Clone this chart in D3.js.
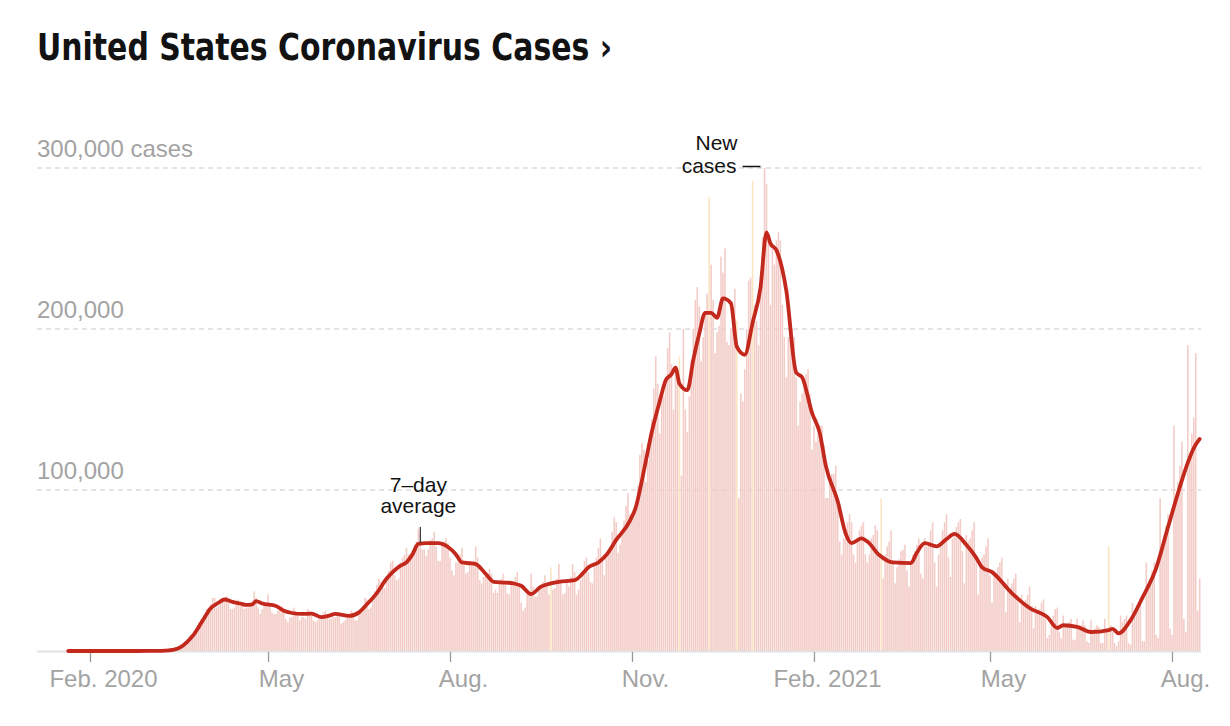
<!DOCTYPE html>
<html>
<head>
<meta charset="utf-8">
<script src="https://cdn.jsdelivr.net/npm/d3@7/dist/d3.min.js"></script>
<style>
  html, body { margin: 0; padding: 0; background: #fff; }
  svg { display: block; }
</style>
</head>
<body>
<svg id="chart" width="1230" height="726"></svg>
<script>
// ---------------- DATA ----------------
const titleText = "United States Coronavirus Cases ›";

// Daily new cases, in thousands; each row: first date of the row, then one value per day
const dailyNewCasesK = [
  ["2020-01-21", 0,0,0,0,0],
  ["2020-01-26", 0,0,0,0,0,0,0],
  ["2020-02-02", 0,0,0,0,0,0,0],
  ["2020-02-09", 0,0,0,0,0,0,0],
  ["2020-02-16", 0,0,0,0,0,0,0],
  ["2020-02-23", 0,0,0,0,0.01,0.01,0.01],
  ["2020-03-01", 0.01,0.02,0.03,0.04,0.05,0.07,0.1],
  ["2020-03-08", 0.12,0.17,0.25,0.3,0.42,0.55,0.7],
  ["2020-03-15", 0.8,1.2,1.8,2.6,4.4,5.6,6.9],
  ["2020-03-22", 9,10,10.5,11.5,14.5,18,19.5],
  ["2020-03-29", 19,21,26,25,29,33,33],
  ["2020-04-05", 27,28,31,32,33,34,30],
  ["2020-04-12", 26,26,27,29,32,30,29],
  ["2020-04-19", 26,27,27,29,28,37,33],
  ["2020-04-26", 27,23,26,28,30,35,29],
  ["2020-05-03", 24,23,23,25,27,28,25],
  ["2020-05-10", 20,18,21,21,27,25,24],
  ["2020-05-17", 19,21,21,20,26,25,22],
  ["2020-05-24", 19,18,19,20,22,24,25],
  ["2020-05-31", 21,20,20,21,21,23,23],
  ["2020-06-07", 17,18,19,21,22,25,24],
  ["2020-06-14", 19,19,24,26,27,33,32],
  ["2020-06-21", 26,27,34,37,41,45,43],
  ["2020-06-28", 40,39,45,50,55,56,47],
  ["2020-07-05", 44,45,55,58,60,64,60],
  ["2020-07-12", 59,58,66,68,76,73,63],
  ["2020-07-19", 63,59,63,69,70,74,65],
  ["2020-07-26", 56,56,66,68,70,67,58],
  ["2020-08-02", 50,47,55,55,60,64,55],
  ["2020-08-09", 48,49,56,55,56,65,58],
  ["2020-08-16", 44,42,46,47,48,51,48],
  ["2020-08-23", 36,38,36,42,45,48,43],
  ["2020-08-30", 36,35,43,42,46,49,42],
  ["2020-09-06", 30,25,27,36,36,48,40],
  ["2020-09-13", 34,34,39,40,43,47,40],
  ["2020-09-20", 35,52,38,39,45,54,43],
  ["2020-09-27", 35,36,43,40,46,54,49],
  ["2020-10-04", 35,38,44,50,56,58,49],
  ["2020-10-11", 43,42,52,58,64,70,57],
  ["2020-10-18", 47,58,61,63,74,83,80],
  ["2020-10-25", 61,66,74,81,90,98,85],
  ["2020-11-01", 82,85,91,103,122,129,125],
  ["2020-11-08", 105,118,135,144,163,183,166],
  ["2020-11-15", 135,160,158,170,188,198,178],
  ["2020-11-22", 150,175,175,183,109,200,150],
  ["2020-11-29", 136,158,181,200,218,226,214],
  ["2020-12-06", 180,195,210,222,282,240,218],
  ["2020-12-13", 185,198,202,245,235,250,192],
  ["2020-12-20", 190,200,205,225,205,95,160],
  ["2020-12-27", 155,175,200,230,232,292,215],
  ["2021-01-03", 205,190,236,257,300,290,255],
  ["2021-01-10", 215,250,240,255,260,255,215],
  ["2021-01-17", 195,170,195,195,200,195,170],
  ["2021-01-24", 140,155,160,165,172,175,160],
  ["2021-01-31", 125,140,130,135,140,140,128],
  ["2021-02-07", 95,95,105,110,110,115,90],
  ["2021-02-14", 68,60,70,72,80,85,80],
  ["2021-02-21", 60,55,70,75,78,80,60],
  ["2021-02-28", 55,60,70,72,78,75,58],
  ["2021-03-07", 95,45,60,65,68,75,55],
  ["2021-03-14", 42,52,57,62,63,66,50],
  ["2021-03-21", 40,55,60,62,66,70,48],
  ["2021-03-28", 45,70,65,68,75,80,55],
  ["2021-04-04", 40,60,65,75,80,85,58],
  ["2021-04-11", 46,70,72,77,80,82,62],
  ["2021-04-18", 42,72,68,70,75,80,57],
  ["2021-04-25", 35,55,58,60,65,70,47],
  ["2021-05-02", 30,50,48,52,55,58,40],
  ["2021-05-09", 24,45,38,42,45,48,35],
  ["2021-05-16", 18,35,30,32,35,40,28],
  ["2021-05-23", 14,28,24,26,30,32,20],
  ["2021-05-30", 8,10,18,22,26,27,12],
  ["2021-06-06", 8,22,15,17,18,20,7],
  ["2021-06-13", 7,20,16,16,19,16,6],
  ["2021-06-20", 5,19,12,14,16,15,5],
  ["2021-06-27", 5,20,13,65,16,12,5],
  ["2021-07-04", 3,6,22,18,20,22,5],
  ["2021-07-11", 4,30,22,24,28,32,6],
  ["2021-07-18", 6,55,38,45,50,55,10],
  ["2021-07-25", 8,95,62,72,78,85,14],
  ["2021-08-01", 10,140,95,105,115,130,20],
  ["2021-08-08", 12,190,120,135,145,185,25],
  ["2021-08-15", 45]
];

// Days drawn in the lighter (flagged) colour
const flaggedDays = ["2020-09-21","2020-11-25","2020-12-10","2020-12-24","2021-01-01",
                     "2021-03-07","2021-06-30"];

// 7-day average, in thousands
const sevenDayAvgK = [
  ["2020-01-21",0],["2020-02-20",0],["2020-03-01",0.02],["2020-03-08",0.1],["2020-03-12",0.4],
  ["2020-03-15",1.0],["2020-03-18",2.5],["2020-03-21",5.5],["2020-03-24",9.5],["2020-03-27",15],
  ["2020-03-30",21],["2020-04-02",26.5],["2020-04-06",30],["2020-04-09",32],["2020-04-13",30.5],
  ["2020-04-17",29.5],["2020-04-20",28.6],["2020-04-23",29],["2020-04-25",31],["2020-04-28",29.5],
  ["2020-05-05",28],["2020-05-09",25],["2020-05-13",23.6],["2020-05-18",23],["2020-05-23",23.2],
  ["2020-05-28",21],["2020-06-01",22],["2020-06-04",23],["2020-06-11",21.8],["2020-06-16",24],
  ["2020-06-20",29],["2020-06-25",36],["2020-06-30",45],["2020-07-03",49],["2020-07-07",53],
  ["2020-07-10",55],["2020-07-13",60],["2020-07-16",66.5],["2020-07-20",67],["2020-07-26",67],
  ["2020-07-31",64.6],["2020-08-04",60],["2020-08-07",55],["2020-08-11",54.5],["2020-08-14",54],
  ["2020-08-19",48],["2020-08-23",43],["2020-08-29",42.5],["2020-09-02",42],["2020-09-06",40.5],
  ["2020-09-11",35.4],["2020-09-16",40],["2020-09-21",42],["2020-09-25",43],["2020-10-03",44],
  ["2020-10-07",48],["2020-10-10",52],["2020-10-15",55],["2020-10-19",59.6],["2020-10-24",69],
  ["2020-10-31",81],["2020-11-03",89.6],["2020-11-05",100],["2020-11-08",118],["2020-11-11",136],
  ["2020-11-15",155],["2020-11-18",168],["2020-11-21",172],["2020-11-23",176],["2020-11-25",166],
  ["2020-11-29",162],["2020-12-02",181],["2020-12-05",197],["2020-12-08",210],["2020-12-11",210],
  ["2020-12-14",207],["2020-12-17",219],["2020-12-21",216],["2020-12-24",189],["2020-12-28",184],
  ["2021-01-01",204],["2021-01-05",226],["2021-01-08",260],["2021-01-10",253],["2021-01-13",249],
  ["2021-01-18",224],["2021-01-23",173],["2021-01-26",170],["2021-01-31",148],["2021-02-04",135],
  ["2021-02-07",115],["2021-02-13",93],["2021-02-17",73],["2021-02-20",67],["2021-02-25",70],
  ["2021-02-28",68],["2021-03-06",59.6],["2021-03-13",55],["2021-03-22",54.6],["2021-03-25",61],
  ["2021-03-29",67],["2021-04-04",65],["2021-04-09",69.5],["2021-04-13",72.7],["2021-04-19",66],
  ["2021-04-24",58],["2021-04-27",52],["2021-05-02",49],["2021-05-12",36],["2021-05-21",26.7],
  ["2021-05-30",21],["2021-06-04",14.3],["2021-06-07",16],["2021-06-14",15],["2021-06-21",11.8],
  ["2021-06-30",13],["2021-07-02",13.7],["2021-07-05",11],["2021-07-11",19],["2021-07-17",33],
  ["2021-07-24",51.5],["2021-07-30",77],["2021-08-06",106],["2021-08-09",117],["2021-08-12",126],
  ["2021-08-15",131.7]
];

const yTickValues = [100, 200, 300];
const yTickLabels = ["100,000", "200,000", "300,000 cases"];
const xTickDates  = ["2020-02-01","2020-05-01","2020-08-01","2020-11-01","2021-02-01","2021-05-01","2021-08-01"];
const xTickLabels = ["Feb. 2020","May","Aug.","Nov.","Feb. 2021","May","Aug."];

const annotationAvg = { date: "2020-07-17", lines: ["7–day", "average"] };
const annotationNew = { date: "2021-01-07", lines: ["New", "cases"] };

// ---------------- CHART ----------------
const parse = d3.utcParse("%Y-%m-%d");
const svg = d3.select("#chart");

const x = d3.scaleUtc()
  .domain([parse("2020-02-01"), parse("2021-08-01")])
  .range([90, 1172]);
const y = d3.scaleLinear().domain([0, 300]).range([651, 168]);

// expand daily rows
const daily = [];
dailyNewCasesK.forEach(row => {
  const start = parse(row[0]);
  row.slice(1).forEach((v, i) => {
    daily.push({ date: d3.utcDay.offset(start, i), value: v });
  });
});
const flagged = new Set(flaggedDays);
const fmt = d3.utcFormat("%Y-%m-%d");

const axisFont = "'Liberation Sans', Arial, sans-serif";
const gridLeft = 37, gridRight = 1201;

// title
svg.append("text")
  .attr("x", 37).attr("y", 60)
  .attr("font-family", "'Liberation Sans Narrow', 'DejaVu Sans Condensed', 'Roboto Condensed', sans-serif")
  .attr("font-weight", 700)
  .attr("font-size", 37)
  .attr("fill", "#121212")
  .attr("textLength", 575)
  .attr("lengthAdjust", "spacingAndGlyphs")
  .text(titleText);

// gridlines
svg.append("g").selectAll("line").data(yTickValues).join("line")
  .attr("x1", gridLeft).attr("x2", gridRight)
  .attr("y1", d => y(d)).attr("y2", d => y(d))
  .attr("stroke", "#dcdcdc").attr("stroke-width", 1.3)
  .attr("stroke-dasharray", "5,4");

// y labels
svg.append("g").selectAll("text").data(yTickValues).join("text")
  .attr("x", gridLeft).attr("y", d => y(d) - 11)
  .attr("font-family", axisFont).attr("font-size", 24)
  .attr("fill", "#a3a3a3")
  .text((d, i) => yTickLabels[i]);

// bars
const dayW = x(parse("2020-02-02")) - x(parse("2020-02-01"));
const barW = dayW * 0.8;
svg.append("g").selectAll("rect").data(daily).join("rect")
  .attr("x", d => x(d.date) - barW / 2)
  .attr("width", barW)
  .attr("y", d => y(d.value))
  .attr("height", d => y(0) - y(d.value))
  .attr("fill", d => flagged.has(fmt(d.date)) ? "#fbe6c3" : "#f3ccc7");

// baseline
svg.append("line")
  .attr("x1", gridLeft).attr("x2", gridRight)
  .attr("y1", y(0) + 0.5).attr("y2", y(0) + 0.5)
  .attr("stroke", "#e2e2e2").attr("stroke-width", 2);

// x axis ticks and labels
const xAxis = d3.axisBottom(x)
  .tickValues(xTickDates.map(parse))
  .tickSize(10)
  .tickFormat((d, i) => xTickLabels[i]);
const gx = svg.append("g").attr("transform", `translate(0,${y(0) + 1})`).call(xAxis);
gx.select(".domain").remove();
gx.selectAll(".tick line").attr("stroke", "#999").attr("stroke-width", 1.3);
gx.selectAll(".tick text")
  .attr("font-family", axisFont).attr("font-size", 24)
  .attr("fill", "#a3a3a3")
  .attr("dy", null).attr("y", 35).attr("x", 13)
  .attr("text-anchor", "middle");

// 7-day average line
const line = d3.line()
  .x(d => x(parse(d[0])))
  .y(d => y(d[1]))
  .curve(d3.curveMonotoneX);
svg.append("path")
  .datum(sevenDayAvgK)
  .attr("d", line)
  .attr("fill", "none")
  .attr("stroke", "#c3281d")
  .attr("stroke-width", 3.8)
  .attr("stroke-linejoin", "round")
  .attr("stroke-linecap", "round");

// annotations
const annFont = "'Liberation Sans', Arial, sans-serif";
const ax = x(parse(annotationAvg.date));
const aAvg = svg.append("g").attr("font-family", annFont).attr("font-size", 21).attr("fill", "#121212");
aAvg.append("text").attr("x", ax - 2).attr("y", 492).attr("text-anchor", "middle").text(annotationAvg.lines[0]);
aAvg.append("text").attr("x", ax - 2).attr("y", 513).attr("text-anchor", "middle").text(annotationAvg.lines[1]);
svg.append("line")
  .attr("x1", ax).attr("x2", ax).attr("y1", 527).attr("y2", y(66.5) - 1)
  .attr("stroke", "#333").attr("stroke-width", 1.2);

const nx = x(parse(annotationNew.date));
const aNew = svg.append("g").attr("font-family", annFont).attr("font-size", 21).attr("fill", "#121212");
aNew.append("text").attr("x", nx - 48).attr("y", 150).attr("text-anchor", "middle").text(annotationNew.lines[0]);
aNew.append("text").attr("x", nx - 28).attr("y", 173).attr("text-anchor", "end").text(annotationNew.lines[1]);
svg.append("line")
  .attr("x1", nx - 22).attr("x2", nx - 4).attr("y1", 166.5).attr("y2", 166.5)
  .attr("stroke", "#121212").attr("stroke-width", 1.5);
</script>
</body>
</html>
